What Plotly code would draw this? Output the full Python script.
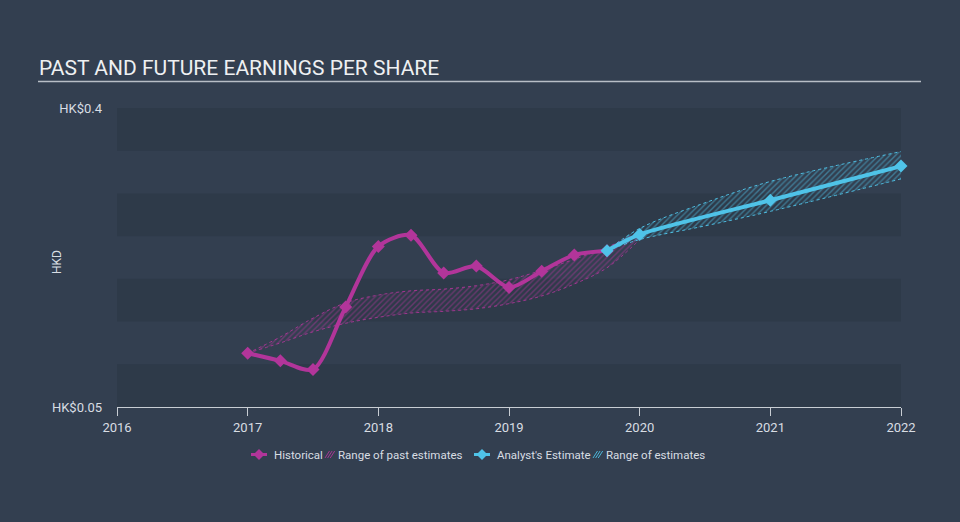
import plotly.graph_objects as go

# ---- data ----
hist_x = [2017.0, 2017.25, 2017.5, 2017.75, 2018.0, 2018.25, 2018.5, 2018.75,
          2019.0, 2019.25, 2019.5, 2019.75]
hist_eps = [0.113, 0.104, 0.094, 0.167, 0.238, 0.251, 0.207, 0.215,
            0.190, 0.209, 0.228, 0.233]

past_range_x = [2017.0, 2017.25, 2017.5, 2017.75, 2018.0, 2018.25, 2018.5, 2018.75,
                2019.0, 2019.25, 2019.5, 2019.75, 2020.0]
past_range_low = [0.113, 0.125, 0.138, 0.148, 0.155, 0.160, 0.162, 0.165,
                  0.171, 0.180, 0.194, 0.213, 0.246]
past_range_high = [0.113, 0.132, 0.154, 0.172, 0.181, 0.186, 0.188, 0.192,
                   0.199, 0.210, 0.223, 0.237, 0.255]

fc_x = [2019.75, 2020.0, 2021.0, 2022.0]
fc_eps = [0.233, 0.252, 0.292, 0.332]

fr_x = [2019.75, 2020.0, 2020.5, 2021.0, 2022.0]
fr_low = [0.233, 0.246, 0.262, 0.279, 0.317]
fr_high = [0.233, 0.259, 0.289, 0.314, 0.349]

x_ticks = [2016, 2017, 2018, 2019, 2020, 2021, 2022]
y_ticks = [0.05, 0.4]
y_tick_text = ["HK$0.05", "HK$0.4"]
band_edges = [0.05, 0.10, 0.15, 0.20, 0.25, 0.30, 0.35, 0.40]

# ---- style ----
BG = "#333f50"
BAND = "#2e3a49"
MAG = "#b2359a"
CYAN = "#4fc3e8"
TXT = "#d8dde3"
FONT = "Roboto"

fig = go.Figure()

# past range band
fig.add_trace(go.Scatter(x=past_range_x, y=past_range_low, mode="lines",
                         line=dict(color="rgba(178,53,154,0.85)", width=1, dash="dot", shape="spline"),
                         hoverinfo="skip", showlegend=False))
fig.add_trace(go.Scatter(x=past_range_x, y=past_range_high, mode="lines", fill="tonexty",
                         fillcolor="rgba(0,0,0,0)",
                         fillpattern=dict(shape="/", fgcolor="rgba(178,53,154,0.9)", bgcolor="rgba(0,0,0,0)",
                                          size=4, solidity=0.35),
                         line=dict(color="rgba(178,53,154,0.85)", width=1, dash="dot", shape="spline"),
                         hoverinfo="skip", showlegend=False))

# forecast range band
fig.add_trace(go.Scatter(x=fr_x, y=fr_low, mode="lines",
                         line=dict(color="rgba(79,195,232,0.95)", width=1, dash="dot", shape="spline"),
                         hoverinfo="skip", showlegend=False))
fig.add_trace(go.Scatter(x=fr_x, y=fr_high, mode="lines", fill="tonexty",
                         fillcolor="rgba(0,0,0,0)",
                         fillpattern=dict(shape="/", fgcolor="rgba(79,195,232,0.9)", bgcolor="rgba(0,0,0,0)",
                                          size=4, solidity=0.35),
                         line=dict(color="rgba(79,195,232,0.95)", width=1, dash="dot", shape="spline"),
                         hoverinfo="skip", showlegend=False))

# historical line
fig.add_trace(go.Scatter(x=hist_x, y=hist_eps, mode="lines+markers",
                         line=dict(color=MAG, width=4, shape="spline", smoothing=0.8),
                         marker=dict(symbol="diamond", size=10, color=MAG),
                         cliponaxis=False, showlegend=False))
# analyst estimate line
fig.add_trace(go.Scatter(x=fc_x, y=fc_eps, mode="lines+markers",
                         line=dict(color=CYAN, width=4, shape="spline", smoothing=0.6),
                         marker=dict(symbol="diamond", size=10, color=CYAN),
                         cliponaxis=False, showlegend=False))

shapes = []
# alternating background bands
for i in range(len(band_edges) - 1):
    if i % 2 == 0:
        shapes.append(dict(type="rect", xref="paper", yref="y", x0=0, x1=1,
                           y0=band_edges[i], y1=band_edges[i + 1],
                           fillcolor=BAND, line=dict(width=0), layer="below"))
# title underline
shapes.append(dict(type="line", xref="paper", yref="paper",
                   x0=-79 / 784, x1=(921 - 117) / 784, y0=(407 - 81.5) / 299,
                   y1=(407 - 81.5) / 299, line=dict(color="#b8bec6", width=1.5)))

annotations = [
    dict(text="PAST AND FUTURE EARNINGS PER SHARE", xref="paper", yref="paper",
         x=(37 - 117) / 784, y=(407 - 68) / 299, xanchor="left", yanchor="middle",
         showarrow=False, font=dict(family=FONT, size=21, color="#eef0f2")),
    dict(text="HKD", xref="paper", yref="paper", x=(57 - 117) / 784, y=(407 - 262) / 299,
         textangle=-90, xanchor="center", yanchor="middle", showarrow=False,
         font=dict(family=FONT, size=12, color=TXT)),
]

# custom legend
leg_y = (407 - 454.5) / 299
def px(xp):
    return (xp - 117) / 784

legend_items = [
    (272, "Historical"), (336, "Range of past estimates"),
    (495, "Analyst's Estimate"), (604, "Range of estimates"),
]
for xp, t in legend_items:
    annotations.append(dict(text=t, xref="paper", yref="paper", x=px(xp), y=leg_y,
                            xanchor="left", yanchor="middle", showarrow=False,
                            font=dict(family=FONT, size=11.5, color=TXT)))

def legend_line_icon(x0, x1, color):
    cx = (x0 + x1) / 2
    cy = 454.5
    yv = lambda p: (407 - p) / 299
    return [
        dict(type="line", xref="paper", yref="paper", x0=px(x0), x1=px(x1), y0=yv(cy), y1=yv(cy),
             line=dict(color=color, width=3)),
        dict(type="path", xref="paper", yref="paper",
             path=f"M {px(cx - 5.5)} {yv(cy)} L {px(cx)} {yv(cy - 5.5)} L {px(cx + 5.5)} {yv(cy)} L {px(cx)} {yv(cy + 5.5)} Z",
             fillcolor=color, line=dict(width=0)),
    ]

def legend_hatch_icon(x0, color):
    yv = lambda p: (407 - p) / 299
    out = []
    for k in range(3):
        xs = x0 + k * 2.6
        out.append(dict(type="line", xref="paper", yref="paper",
                        x0=px(xs), y0=yv(458), x1=px(xs + 4.5), y1=yv(451),
                        line=dict(color=color, width=1)))
    return out

shapes += legend_line_icon(251, 267, MAG)
shapes += legend_hatch_icon(325, "rgba(178,53,154,0.9)")
shapes += legend_line_icon(474, 490, CYAN)
shapes += legend_hatch_icon(593, "rgba(79,195,232,0.9)")

fig.update_layout(
    width=960, height=522,
    margin=dict(l=117, r=59, t=108, b=115),
    paper_bgcolor=BG, plot_bgcolor=BG,
    font=dict(family=FONT, color=TXT, size=12),
    showlegend=False,
    shapes=shapes,
    annotations=annotations,
    xaxis=dict(range=[2016, 2022], tickvals=x_ticks, ticktext=[str(v) for v in x_ticks],
               showgrid=False, zeroline=False, showline=True, linecolor="#c8cdd3", linewidth=1,
               ticks="outside", ticklen=8, tickcolor="#c8cdd3",
               tickfont=dict(family=FONT, size=13, color=TXT)),
    yaxis=dict(range=[0.05, 0.4], tickvals=y_ticks, ticktext=y_tick_text,
               showgrid=False, zeroline=False, showline=False, ticks="",
               ticklabelstandoff=14,
               tickfont=dict(family=FONT, size=13, color=TXT)),
    hovermode=False,
)

fig.write_html("out.html")
